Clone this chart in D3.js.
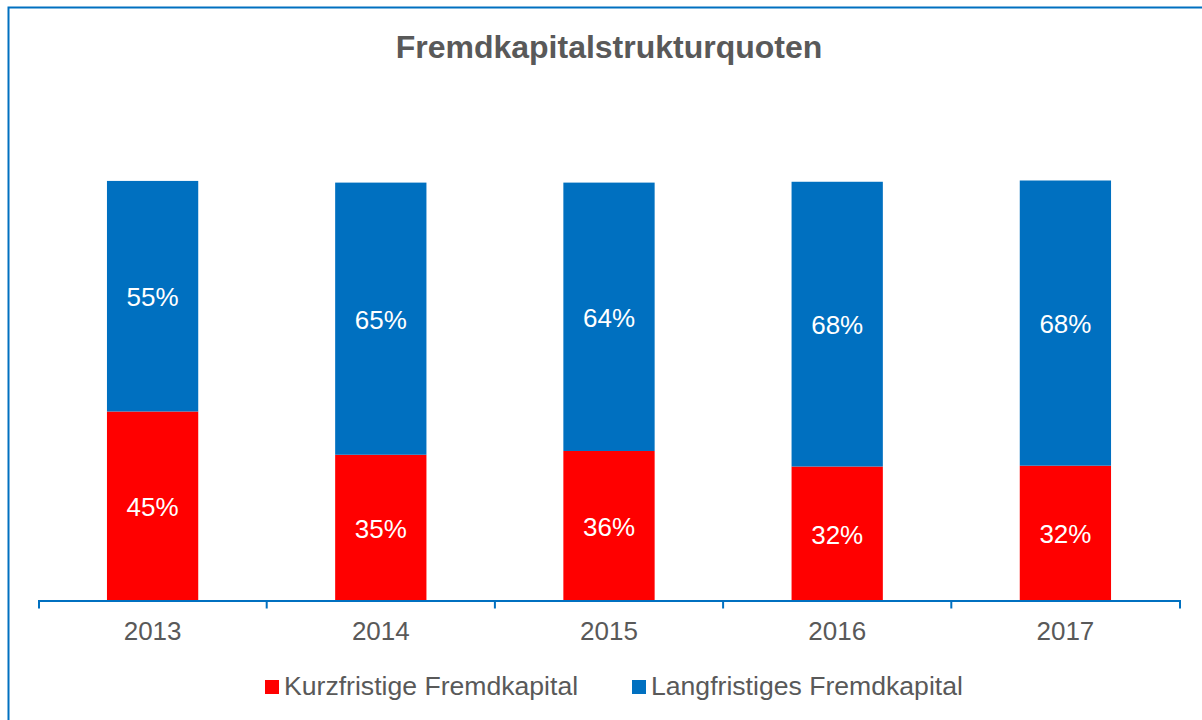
<!DOCTYPE html>
<html>
<head>
<meta charset="utf-8">
<script src="https://cdn.jsdelivr.net/npm/d3@7"></script>
<style>
  html, body { margin: 0; padding: 0; background: #ffffff; }
  svg { display: block; }
</style>
</head>
<body>
<svg id="chart" width="1202" height="720"></svg>
<script>
const years = ["2013", "2014", "2015", "2016", "2017"];
const kurzfristig = [0.450, 0.347, 0.356, 0.319, 0.321];
const langfristig = [0.549, 0.648, 0.639, 0.678, 0.679];
const seriesNames = ["Kurzfristige Fremdkapital", "Langfristiges Fremdkapital"];
const seriesColors = ["#FF0000", "#0070C0"];
const titleText = "Fremdkapitalstrukturquoten";

const svg = d3.select("#chart");
const font = "Arial, 'Liberation Sans', Helvetica, sans-serif";
const textColor = "#595959";

// outer border
svg.append("rect")
  .attr("x", 8.5).attr("y", 7.5)
  .attr("width", 1300).attr("height", 800)
  .attr("fill", "none")
  .attr("stroke", "#0070C0")
  .attr("stroke-width", 2);

// title
svg.append("text")
  .attr("x", 609).attr("y", 58)
  .attr("text-anchor", "middle")
  .attr("font-family", font)
  .attr("font-weight", "bold")
  .attr("font-size", 32)
  .attr("fill", textColor)
  .text(titleText);

const x0 = 38.5, x1 = 1179.5, yBase = 600.5;
const x = d3.scaleBand().domain(years).range([x0, x1]).paddingInner(0.6).paddingOuter(0.3);
const xCat = d3.scaleBand().domain(years).range([x0, x1]).padding(0);
const y = d3.scaleLinear().domain([0, 1.2]).range([yBase, yBase - 504]);

const data = years.map((yr, i) => ({ year: yr, k: kurzfristig[i], l: langfristig[i] }));
const stack = d3.stack().keys(["k", "l"]);
const stacked = stack(data);

const g = svg.append("g");
stacked.forEach((layer, si) => {
  g.selectAll(null).data(layer).enter().append("rect")
    .attr("x", d => x(d.data.year))
    .attr("width", x.bandwidth())
    .attr("y", d => y(d[1]))
    .attr("height", d => y(d[0]) - y(d[1]))
    .attr("fill", seriesColors[si]);
  g.selectAll(null).data(layer).enter().append("text")
    .attr("x", d => x(d.data.year) + x.bandwidth() / 2)
    .attr("y", d => (y(d[0]) + y(d[1])) / 2 + 10)
    .attr("text-anchor", "middle")
    .attr("font-family", font)
    .attr("font-size", 26)
    .attr("fill", "#ffffff")
    .text(d => d3.format(".0%")(d[1] - d[0]));
});

// axis
const axis = svg.append("g")
  .attr("transform", `translate(0,${yBase})`)
  .call(d3.axisBottom(xCat).tickSize(0).tickSizeOuter(8).tickPadding(21));
axis.select(".domain").attr("stroke", "#0070C0").attr("stroke-width", 2);
axis.selectAll(".tick text")
  .attr("font-family", font)
  .attr("font-size", 26)
  .attr("fill", textColor)
  .attr("dy", "0.71em");
axis.selectAll(null).data(years.slice(1)).enter().append("line")
  .attr("x1", d => xCat(d)).attr("x2", d => xCat(d))
  .attr("y1", 0).attr("y2", 8)
  .attr("stroke", "#0070C0").attr("stroke-width", 2);

// legend
const legendX = [265, 632];
const lg = svg.append("g");
seriesNames.forEach((name, i) => {
  lg.append("rect")
    .attr("x", legendX[i]).attr("y", 680)
    .attr("width", 14).attr("height", 14)
    .attr("fill", seriesColors[i]);
  lg.append("text")
    .attr("x", legendX[i] + 19).attr("y", 695)
    .attr("font-family", font)
    .attr("font-size", 26.6)
    .attr("fill", textColor)
    .text(name);
});
</script>
</body>
</html>
